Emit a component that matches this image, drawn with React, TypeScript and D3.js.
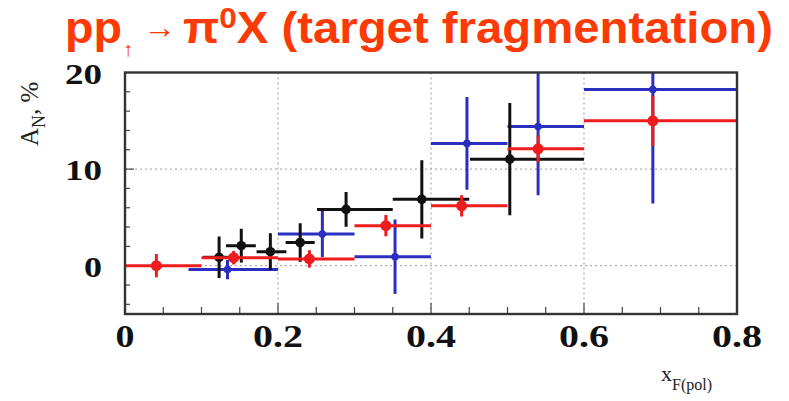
import React from "react";
import * as d3 from "d3";

// Binned single-spin asymmetry A_N (%) vs x_F of the polarized proton
const redX = [0.041, 0.142, 0.241, 0.341, 0.44, 0.54, 0.69];
const redY = [0.0, 0.83, 0.7, 4.14, 6.2, 12.1, 15.0];
const redLo = [0.0, 0.1, 0.2, 0.3, 0.4, 0.5, 0.6];
const redHi = [0.1, 0.2, 0.3, 0.4, 0.5, 0.6, 0.8];
const redErr = [1.2, 0.7, 0.9, 1.1, 1.1, 1.4, 2.6];

const blueX = [0.134, 0.258, 0.353, 0.447, 0.54, 0.69];
const blueY = [-0.4, 3.28, 0.93, 12.66, 14.4, 18.24];
const blueLo = [0.083, 0.2, 0.3, 0.4, 0.5, 0.6];
const blueHi = [0.2, 0.3, 0.4, 0.5, 0.6, 0.8];
const blueErr = [1.0, 2.4, 3.85, 4.8, 7.1, 11.8];

const blackX = [0.123, 0.152, 0.19, 0.229, 0.289, 0.388, 0.503];
const blackY = [0.87, 2.07, 1.45, 2.4, 5.83, 6.87, 11.03];
const blackLo = [0.102, 0.132, 0.172, 0.21, 0.251, 0.35, 0.451];
const blackHi = [0.141, 0.171, 0.211, 0.248, 0.35, 0.45, 0.6];
const blackErr = [2.15, 1.75, 1.9, 2.0, 1.8, 4.05, 5.8];

const xTickLabels = ["0", "0.2", "0.4", "0.6", "0.8"];
const yTickLabels = ["0", "10", "20"];

const W = 789;
const H = 401;
const L = 125, R = 737, T = 72.5, B = 314;

type Series = {
  name: string;
  x: number[]; y: number[]; lo: number[]; hi: number[]; err: number[];
  color: string; r: number;
};

export default function App() {
  const x = d3.scaleLinear().domain([0, 0.8]).range([L, R]);
  const y = d3.scaleLinear().domain([-5, 20]).range([B, T]);

  const series: Series[] = [
    { name: "blue", x: blueX, y: blueY, lo: blueLo, hi: blueHi, err: blueErr, color: "#2a2fbf", r: 3.8 },
    { name: "black", x: blackX, y: blackY, lo: blackLo, hi: blackHi, err: blackErr, color: "#111111", r: 4.8 },
    { name: "red", x: redX, y: redY, lo: redLo, hi: redHi, err: redErr, color: "#ee1c1c", r: 5.5 },
  ];

  const xMinor = d3.range(0, 0.8001, 0.05);
  const yMinor = d3.range(-4, 20, 2);
  const serif = "'Liberation Serif', 'Times New Roman', Times, serif";
  const titleColor = "#fb3a06";

  return (
    <svg width={W} height={H} style={{ position: "absolute", left: 0, top: 0, background: "#fff" }}>
      <defs>
        <clipPath id="plotClip">
          <rect x={L} y={T} width={R - L} height={B - T} />
        </clipPath>
      </defs>

      {/* title */}
      <g fill={titleColor} fontFamily="'Liberation Sans', Arial, sans-serif" fontWeight="bold">
        <text x={65} y={43} fontSize={45} textLength={57} lengthAdjust="spacingAndGlyphs">pp</text>
        <text x={123} y={56} fontSize={20} fontWeight="normal">↑</text>
        <text x={143} y={38} fontSize={32} fontWeight="normal" textLength={33} lengthAdjust="spacingAndGlyphs">→</text>
        <text x={183} y={43} fontSize={45} textLength={590} lengthAdjust="spacingAndGlyphs">
          π<tspan fontSize={30} dy={-15}>0</tspan><tspan dy={15}>X (target fragmentation)</tspan>
        </text>
      </g>

      {/* grid */}
      <g stroke="#9a9a9a" strokeWidth={1} strokeDasharray="2,3">
        {[0.2, 0.4, 0.6].map((v) => (
          <line key={"gx" + v} x1={x(v)} x2={x(v)} y1={T} y2={B} />
        ))}
        {[0, 10].map((v) => (
          <line key={"gy" + v} x1={L} x2={R} y1={y(v)} y2={y(v)} />
        ))}
      </g>

      {/* ticks */}
      <g stroke="#444" strokeWidth={1.2}>
        {xMinor.map((v, i) => (
          <line key={"tx" + i} x1={x(v)} x2={x(v)} y1={B} y2={B - (i % 4 === 0 ? 11 : 7)} />
        ))}
        {yMinor.map((v, i) => (
          <line key={"ty" + i} x1={L} x2={L + (v % 10 === 0 ? 9 : 5)} y1={y(v)} y2={y(v)} />
        ))}
      </g>

      {/* data */}
      <g clipPath="url(#plotClip)">
        {series.map((s) => (
          <g key={s.name} stroke={s.color} fill={s.color} strokeWidth={3}>
            {s.x.map((xv, i) => (
              <g key={i}>
                <line x1={x(s.lo[i])} x2={x(s.hi[i])} y1={y(s.y[i])} y2={y(s.y[i])} />
                <line x1={x(xv)} x2={x(xv)} y1={y(s.y[i] - s.err[i])} y2={y(s.y[i] + s.err[i])} />
                <circle cx={x(xv)} cy={y(s.y[i])} r={s.r} stroke="none" />
              </g>
            ))}
          </g>
        ))}
      </g>

      {/* frame */}
      <rect x={L} y={T} width={R - L} height={B - T} fill="none" stroke="#333" strokeWidth={2.4} />

      {/* tick labels */}
      <g fontFamily={serif} fontWeight="bold" fill="#111">
        {xTickLabels.map((t) => {
          const v = +t;
          const w = t.length === 1 ? 19 : 50;
          return (
            <text key={"lx" + t} x={x(v) - w / 2} y={347} fontSize={32} textLength={w} lengthAdjust="spacingAndGlyphs">
              {t}
            </text>
          );
        })}
        {yTickLabels.map((t) => {
          const v = +t;
          const w = t.length === 1 ? 18 : 37;
          return (
            <text key={"ly" + t} x={102 - w} y={y(v) + 11} fontSize={30} textLength={w} lengthAdjust="spacingAndGlyphs">
              {t}
            </text>
          );
        })}
      </g>

      {/* axis titles */}
      <text transform="translate(38,146) rotate(-90)" fontFamily={serif} fontSize={25} fill="#222">
        A<tspan fontSize={18} dy={7}>N</tspan><tspan dy={-7}>, %</tspan>
      </text>
      <text x={661} y={381} fontFamily={serif} fontSize={22} fill="#222">
        x<tspan fontSize={16} dy={9}>F(pol)</tspan>
      </text>
    </svg>
  );
}
